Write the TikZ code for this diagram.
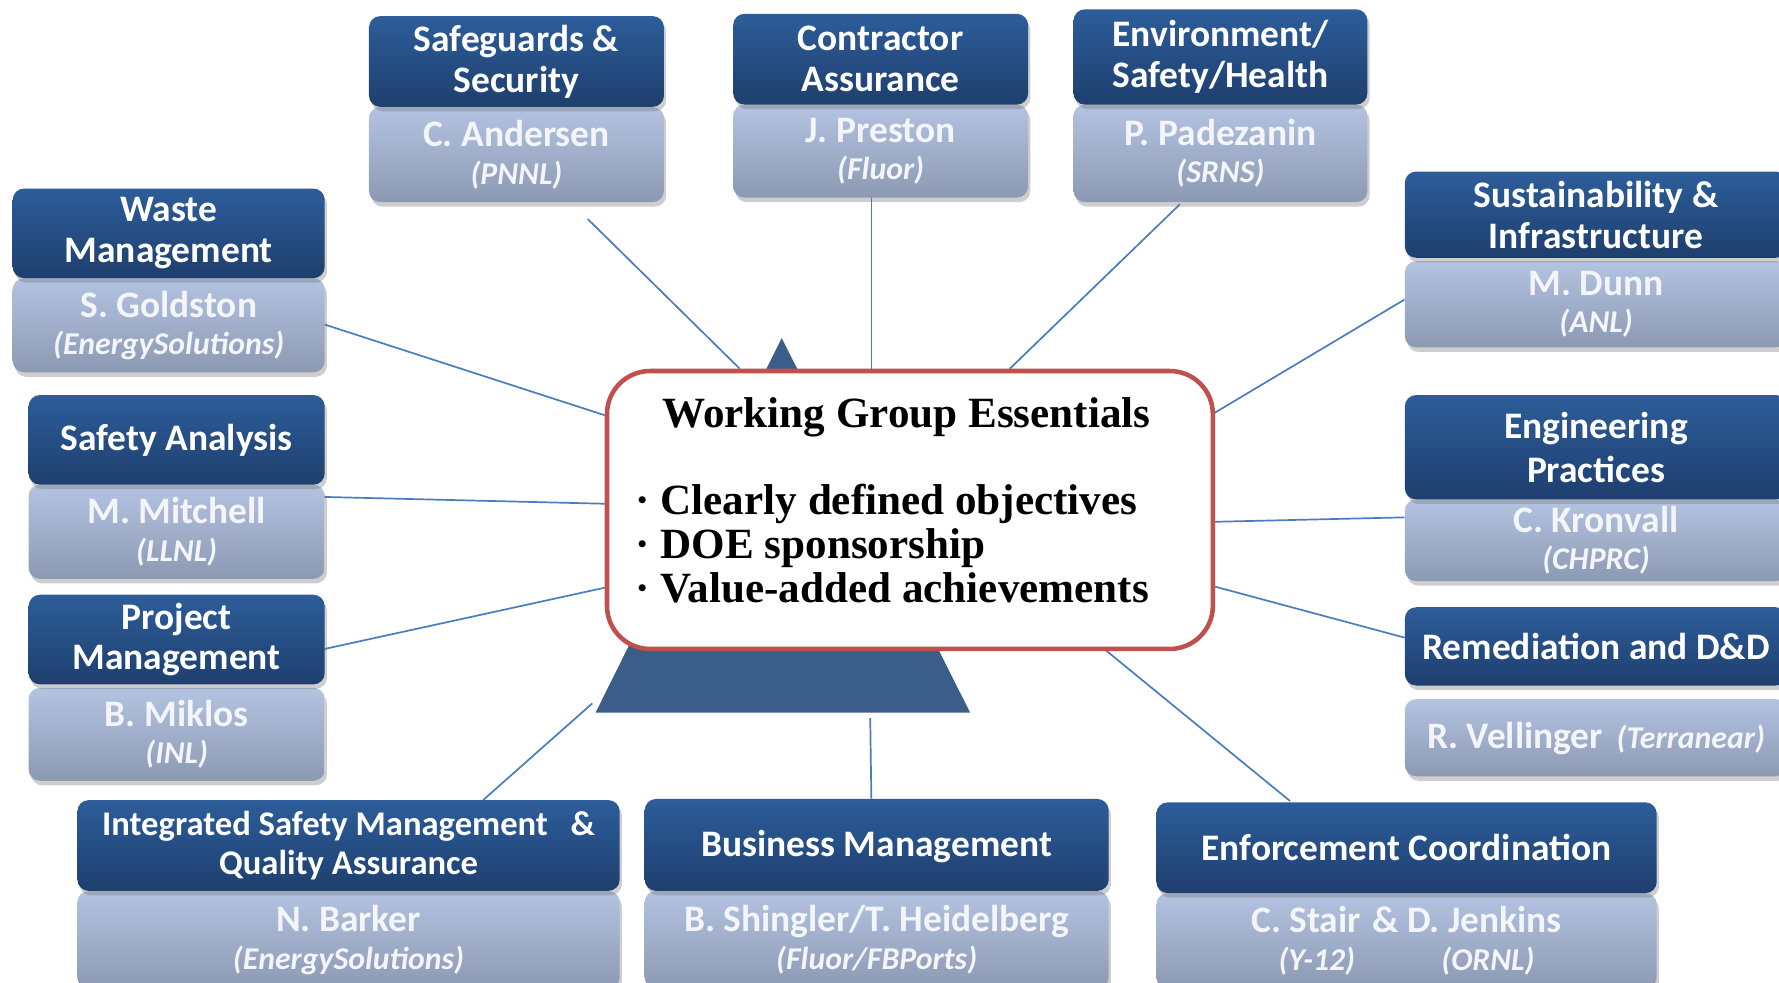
\documentclass[tikz,border=0pt]{standalone}
\usepackage{fontspec}
\setmainfont{Carlito}
\newfontfamily\centerfont{Liberation Serif}
\usetikzlibrary{shadows}
\definecolor{dkTop}{HTML}{2D5D9A}
\definecolor{dkBot}{HTML}{1E3F6E}
\definecolor{ltTop}{HTML}{B3C3E1}
\definecolor{ltBot}{HTML}{8C99B3}
\definecolor{ltText}{HTML}{F3F5F9}
\definecolor{lineC}{HTML}{4A7CC0}
\definecolor{triC}{HTML}{3A5D8A}
\definecolor{redC}{HTML}{C0504D}
\newcommand{\orgtxt}[1]{{\fontsize{28}{33}\selectfont\itshape #1}}
\tikzset{
  boxbase/.style={rounded corners=10pt, draw=none, align=center, anchor=north west, inner sep=0pt,
    drop shadow={opacity=0.35, shadow xshift=2pt, shadow yshift=-4pt, fill=black!55}},
  dbox/.style={boxbase, top color=dkTop, bottom color=dkBot, text=white,
    font=\bfseries\fontsize{33}{36}\selectfont},
  lbox/.style={boxbase, top color=ltTop, bottom color=ltBot, text=ltText,
    font=\bfseries\fontsize{33}{33}\selectfont, text depth=4pt},
  conn/.style={draw=lineC, line width=1.5pt},
}
\begin{document}
\begin{tikzpicture}[x=1pt,y=-1pt]
\useasboundingbox (0,0) rectangle (1568,866);
% connector end points
\coordinate (p1a) at (518,193); \coordinate (p1b) at (652,325);
\coordinate (p2a) at (768,174); \coordinate (p2b) at (768,325);
\coordinate (p3a) at (1040,180); \coordinate (p3b) at (890,325);
\coordinate (p4a) at (1238,264); \coordinate (p4b) at (1067,366);
\coordinate (p5a) at (1238,456); \coordinate (p5b) at (1067,460);
\coordinate (p6a) at (1238,562); \coordinate (p6b) at (1067,516);
\coordinate (p7a) at (1137,706); \coordinate (p7b) at (972,571);
\coordinate (p8a) at (767,633); \coordinate (p8b) at (768,704);
\coordinate (p9a) at (522,620); \coordinate (p9b) at (426,705);
\coordinate (p10a) at (286,572); \coordinate (p10b) at (533,518);
\coordinate (p11a) at (286,438); \coordinate (p11b) at (533,444);
\coordinate (p12a) at (286,286); \coordinate (p12b) at (533,366);
\foreach \i in {1,...,12} { \draw[conn] (p\i a) -- (p\i b); }
% pyramid
\fill[triC] (689,298) -- (855,628) -- (525,628) -- cycle;
% central box
\node[draw=redC, line width=4pt, rounded corners=38pt, fill=white, minimum width=534pt,
  minimum height=245pt, anchor=north west] (cb) at (533,325) {};
\node[font=\centerfont\bfseries\fontsize{38}{40}\selectfont] (title) at (799,368) {Working Group Essentials};
\node[anchor=west, align=left, inner sep=0pt, font=\centerfont\bfseries\fontsize{38}{39}\selectfont] (bul) at (560,479)
  {· Clearly defined objectives\\· DOE sponsorship\\· Value-added achievements};
% Waste Management
\node[lbox, minimum width=275pt, minimum height=83pt] (wmL) at (11,245) {S. Goldston\\\orgtxt{(EnergySolutions)}};
\node[dbox, minimum width=275pt, minimum height=79pt] (wmD) at (11,166) {Waste\\Management};
% Safety Analysis
\node[lbox, minimum width=261pt, minimum height=83pt] (saL) at (25,427) {M. Mitchell\\\orgtxt{(LLNL)}};
\node[dbox, minimum width=261pt, minimum height=79pt] (saD) at (25,348) {Safety Analysis};
% Project Management
\node[lbox, minimum width=261pt, minimum height=82pt] (pmL) at (25,606) {B. Miklos\\\orgtxt{(INL)}};
\node[dbox, minimum width=261pt, minimum height=79pt] (pmD) at (25,524) {Project\\Management};
% Safeguards & Security
\node[lbox, minimum width=260pt, minimum height=84pt] (sgL) at (325,94) {C. Andersen\\\orgtxt{(PNNL)}};
\node[dbox, minimum width=260pt, minimum height=80pt] (sgD) at (325,14) {Safeguards \&\\Security};
% Contractor Assurance
\node[lbox, minimum width=260pt, minimum height=82pt] (caL) at (646,92) {J. Preston\\\orgtxt{(Fluor)}};
\node[dbox, minimum width=260pt, minimum height=80pt] (caD) at (646,12) {Contractor\\Assurance};
% Environment
\node[lbox, minimum width=259pt, minimum height=86pt] (esL) at (946,92) {P. Padezanin\\\orgtxt{(SRNS)}};
\node[dbox, minimum width=259pt, minimum height=84pt] (esD) at (946,8) {Environment/\\Safety/Health};
% Sustainability
\node[lbox, minimum width=337pt, minimum height=76pt] (suL) at (1238,230) {M. Dunn\\\orgtxt{(ANL)}};
\node[dbox, minimum width=337pt, minimum height=76pt] (suD) at (1238,151) {Sustainability \&\\Infrastructure};
% Engineering Practices
\node[lbox, minimum width=337pt, minimum height=72pt] (epL) at (1238,440) {C. Kronvall\\\orgtxt{(CHPRC)}};
\node[dbox, minimum width=337pt, minimum height=92pt, font=\bfseries\fontsize{33}{39}\selectfont] (epD) at (1238,348) {Engineering\\Practices};
% Remediation
\node[lbox, minimum width=337pt, minimum height=68pt] (rdL) at (1238,616) {R. Vellinger\hspace{12pt}\orgtxt{(Terranear)}};
\node[dbox, minimum width=337pt, minimum height=69pt] (rdD) at (1238,535) {Remediation and D\&D};
% Integrated Safety Management
\node[lbox, minimum width=478pt, minimum height=86pt] (isL) at (68,785) {N. Barker\\\orgtxt{(EnergySolutions)}};
\node[dbox, minimum width=478pt, minimum height=80pt, font=\bfseries\fontsize{30.5}{34}\selectfont] (isD) at (68,705) {Integrated Safety Management\hspace{20pt}\&\\Quality Assurance};
% Business Management
\node[lbox, minimum width=409pt, minimum height=86pt] (bmL) at (568,785) {B. Shingler/T. Heidelberg\\\orgtxt{(Fluor/FBPorts)}};
\node[dbox, minimum width=409pt, minimum height=81pt, text depth=3pt] (bmD) at (568,704) {Business Management};
% Enforcement Coordination
\node[lbox, minimum width=441pt, minimum height=84pt] (ecL) at (1019,787) {C. Stair\hspace{10pt}\& D. Jenkins\\\orgtxt{(Y-12)\hspace{76pt}(ORNL)}};
\node[dbox, minimum width=441pt, minimum height=80pt] (ecD) at (1019,707) {Enforcement Coordination};
\end{tikzpicture}
\end{document}
